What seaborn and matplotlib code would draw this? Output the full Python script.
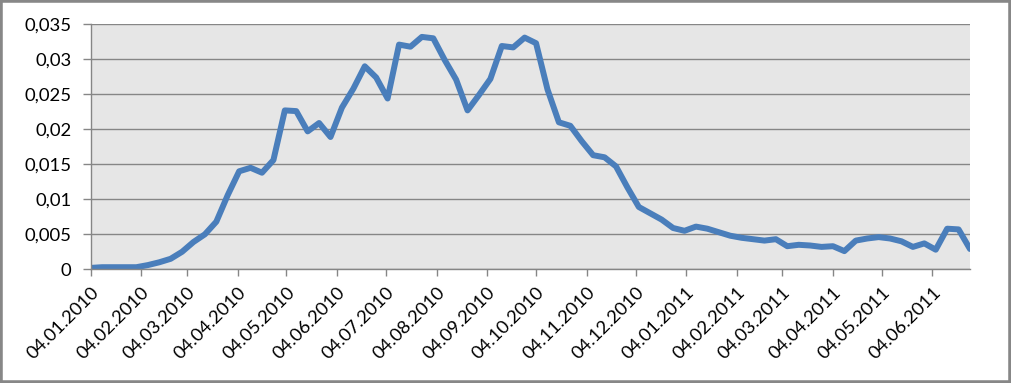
import matplotlib
matplotlib.use("Agg")
import matplotlib.pyplot as plt
import matplotlib.dates as mdates
from matplotlib.patches import Rectangle
import seaborn as sns
import pandas as pd
import numpy as np

# ---- data (weekly, starting 04.01.2010) ----
start_date = "2010-01-04"
values = [
    0.0002, 0.0003, 0.0003, 0.0003, 0.0003, 0.0006, 0.0010, 0.0015, 0.0025, 0.0039,
    0.0050, 0.0068, 0.0106, 0.0140, 0.0145, 0.0138, 0.0156, 0.0227, 0.0226, 0.0197,
    0.0209, 0.0189, 0.0231, 0.0258, 0.0290, 0.0274, 0.0244, 0.0321, 0.0318, 0.0332,
    0.0330, 0.0299, 0.0271, 0.0227, 0.0249, 0.0272, 0.0319, 0.0317, 0.0331, 0.0323,
    0.0257, 0.0210, 0.0205, 0.0183, 0.0163, 0.0160, 0.0147, 0.0117, 0.0089, 0.0080,
    0.0071, 0.0059, 0.0055, 0.0061, 0.0058, 0.0053, 0.0048, 0.0045, 0.0043, 0.0041,
    0.0043, 0.0033, 0.0035, 0.0034, 0.0032, 0.0033, 0.0026, 0.0041, 0.0044, 0.0046,
    0.0044, 0.0040, 0.0032, 0.0037, 0.0028, 0.0058, 0.0057, 0.0029,
]
y_ticks = [0, 0.005, 0.01, 0.015, 0.02, 0.025, 0.03, 0.035]
y_tick_labels = ["0", "0,005", "0,01", "0,015", "0,02", "0,025", "0,03", "0,035"]
x_tick_labels = [
    "04.01.2010", "04.02.2010", "04.03.2010", "04.04.2010", "04.05.2010", "04.06.2010",
    "04.07.2010", "04.08.2010", "04.09.2010", "04.10.2010", "04.11.2010", "04.12.2010",
    "04.01.2011", "04.02.2011", "04.03.2011", "04.04.2011", "04.05.2011", "04.06.2011",
]

dates = pd.date_range(start_date, periods=len(values), freq="7D")
df = pd.DataFrame({"date": dates, "value": values})
x_ticks = pd.to_datetime(x_tick_labels, format="%d.%m.%Y")

sns.set_theme(style="white")
plt.rcParams["font.family"] = ["Lato", "DejaVu Sans"]

W, H = 1011, 383
fig = plt.figure(figsize=(W / 100, H / 100), dpi=100, facecolor="white")
ax = fig.add_axes([90.7 / W, (H - 269.3) / H, (970 - 90.7) / W, 245 / H])
ax.set_facecolor("#E6E6E6")

grid_c = "#868686"
sns.lineplot(data=df, x="date", y="value", ax=ax, color="#4A7EBB", linewidth=4.3,
             solid_joinstyle="round", solid_capstyle="round", legend=False)

ax.set_ylim(0, 0.035)
ax.set_xlim(dates[0], dates[-1])
ax.set_yticks(y_ticks)
ax.set_yticklabels(y_tick_labels)
ax.set_xticks(x_ticks)
ax.set_xticklabels(x_tick_labels, rotation=45, ha="right", va="top", rotation_mode="anchor")
ax.set_xlabel("")
ax.set_ylabel("")

ax.grid(axis="y", color=grid_c, linewidth=1.0)
ax.set_axisbelow(True)
for s in ["top", "right"]:
    ax.spines[s].set_visible(False)
for s in ["left", "bottom"]:
    ax.spines[s].set_color(grid_c)
    ax.spines[s].set_linewidth(1.0)

ax.tick_params(axis="y", direction="out", length=6, width=1.0, color=grid_c,
               pad=8, labelsize=13.3, labelcolor="black", left=True)
ax.tick_params(axis="x", direction="out", length=5, width=1.0, color=grid_c,
               pad=6, labelsize=13.3, labelcolor="black", bottom=True)

fig.patches.append(Rectangle((0, 0), 1, 1, transform=fig.transFigure, fill=False,
                             edgecolor="#878787", linewidth=4))

fig.savefig("out.png", dpi=100, facecolor="white")
